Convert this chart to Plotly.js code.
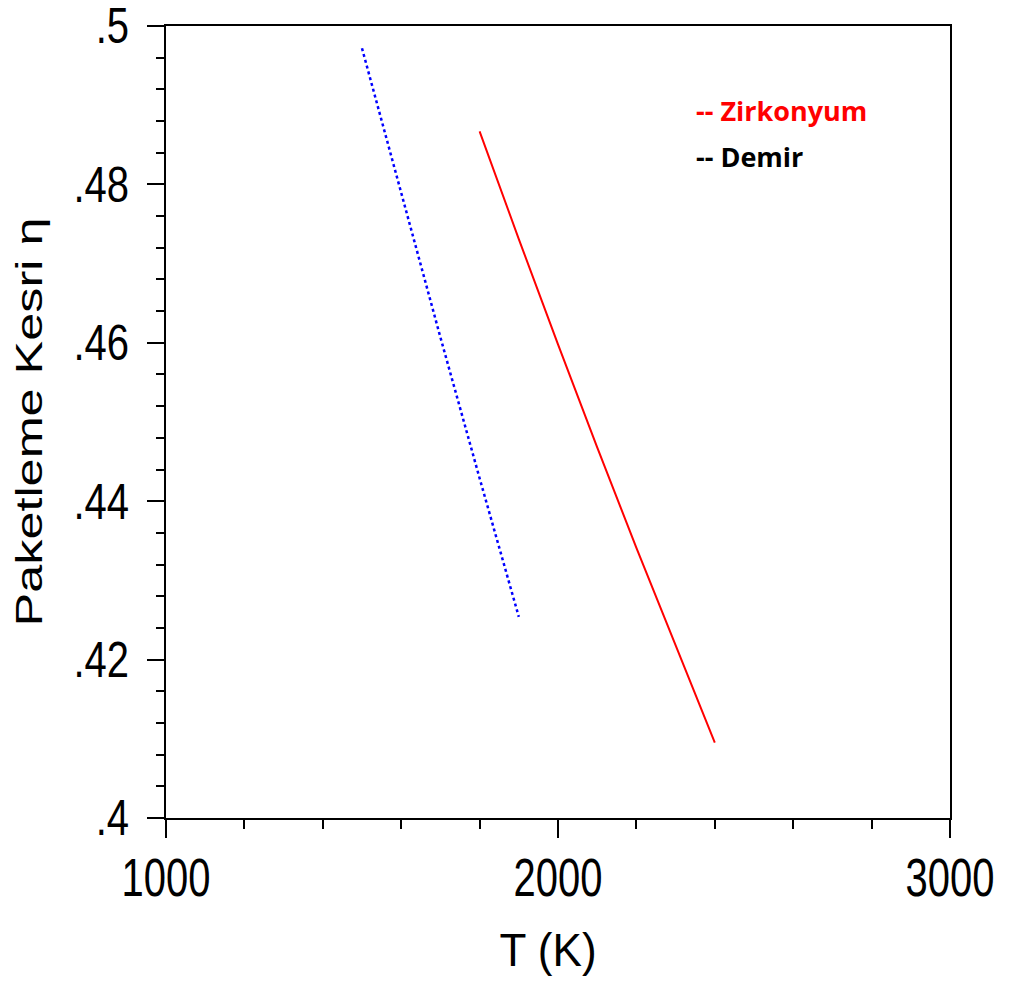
<!DOCTYPE html>
<html>
<head>
<meta charset="utf-8">
<script src="https://cdn.plot.ly/plotly-3.0.1.min.js"></script>
<style>html,body{margin:0;padding:0;background:#fff;}#chart{width:1017px;height:987px;}</style>
</head>
<body>
<div id="chart"></div>
<script>
// Zirkonyum (red, solid)
const zrT   = [1800, 1900, 2000, 2100, 2200, 2300, 2400];
const zrEta = [0.4867, 0.4731, 0.4598, 0.4468, 0.4341, 0.4217, 0.4095];
// Demir (blue, dotted)
const feT   = [1500, 1600, 1700, 1800, 1900];
const feEta = [0.4972, 0.4788, 0.4607, 0.4429, 0.4254];

const xTickVals = [1000, 2000, 3000];
const xTickText = ["1000", "2000", "3000"];
const yTickVals = [0.40, 0.42, 0.44, 0.46, 0.48, 0.50];
const yTickText = [".4", ".42", ".44", ".46", ".48", ".5"];

const legendLabels = ["-- Zirkonyum", "-- Demir"];
const legendColors = ["#ff0000", "#000000"];

const baseFont = "'Liberation Sans', Arial, sans-serif";
const tickFont = {family: baseFont, size: 40, color: "#000"};

const traces = [
  {x: feT, y: feEta, mode: "lines", line: {color: "#0000ff", width: 2.5, dash: "3px,3px"}, showlegend: false, hoverinfo: "skip"},
  {x: zrT, y: zrEta, mode: "lines", line: {color: "#ff0000", width: 2}, showlegend: false, hoverinfo: "skip"}
];

const layout = {
  width: 1017, height: 987,
  margin: {l: 166, r: 67, t: 26, b: 169, pad: 0},
  paper_bgcolor: "#ffffff", plot_bgcolor: "#ffffff",
  showlegend: false,
  xaxis: {
    range: [999.99, 3000.01], showgrid: false, zeroline: false,
    showline: true, linecolor: "#000", linewidth: 2, mirror: true,
    ticks: "outside", ticklen: 18, tickwidth: 2, tickcolor: "#000",
    tickvals: xTickVals, ticktext: xTickText, tickfont: tickFont,
    ticklabelstandoff: 6,
    minor: {dtick: 200, ticks: "outside", ticklen: 9, tickwidth: 2, tickcolor: "#000", showgrid: false},
    title: {text: "T (K)", font: {family: baseFont, size: 42, color: "#000"}, standoff: 36}
  },
  yaxis: {
    range: [0.39999, 0.50001], showgrid: false, zeroline: false,
    showline: true, linecolor: "#000", linewidth: 2, mirror: true,
    ticks: "outside", ticklen: 17, tickwidth: 2, tickcolor: "#000",
    tickvals: yTickVals, ticktext: yTickText, tickfont: tickFont,
    ticklabelstandoff: 10,
    minor: {dtick: 0.004, ticks: "outside", ticklen: 8, tickwidth: 2, tickcolor: "#000", showgrid: false},
    title: {text: "Paketleme Kesri η", font: {family: baseFont, size: 36, color: "#000"}, standoff: 20}
  },
  annotations: legendLabels.map((t, i) => ({
    text: "<b>" + t + "</b>", xref: "paper", yref: "paper",
    x: 0.674, y: [0.893, 0.835][i], xanchor: "left", yanchor: "middle",
    showarrow: false, font: {family: "'Open Sans', Lato, sans-serif", size: 27, color: legendColors[i]}
  }))
};

function stretch(el, sx, sy, dx, dy) {
  const bb = el.getBBox();
  const cx = bb.x + bb.width / 2, cy = bb.y + bb.height / 2;
  const prev = el.getAttribute("transform") || "";
  el.setAttribute("transform", prev + " translate(" + (cx + (dx || 0)) + "," + (cy + (dy || 0)) + ") scale(" + sx + "," + sy + ") translate(" + (-cx) + "," + (-cy) + ")");
}

Plotly.newPlot("chart", traces, layout, {staticPlot: true, displayModeBar: false}).then(gd => {
  gd.querySelectorAll(".xtick text").forEach(el => stretch(el, 1, 1.32));
  gd.querySelectorAll(".ytick text").forEach(el => stretch(el, 1, 1.24));
  const xt = gd.querySelector(".g-xtitle text");
  if (xt) stretch(xt, 1.05, 1.12, -10, 0);
  const yt = gd.querySelector(".g-ytitle text");
  if (yt) stretch(yt, 1.4, 1);
});
</script>
</body>
</html>
